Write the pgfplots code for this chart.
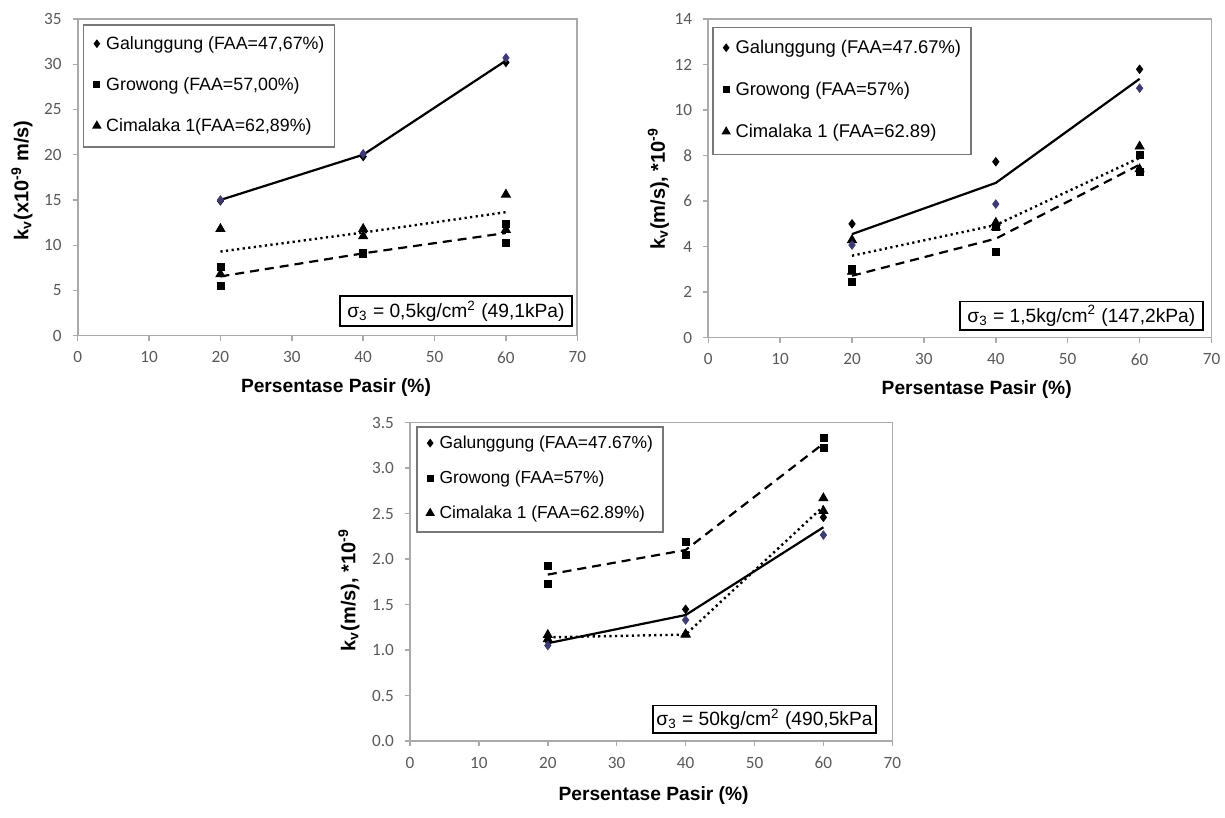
\documentclass[border=0pt]{standalone}
\usepackage{fontspec}
\setmainfont{Liberation Sans}
\newfontfamily\tickfont{Carlito}
\usepackage{pgfplots}
\pgfplotsset{compat=1.18}
\definecolor{axgray}{RGB}{170,170,170}
\definecolor{tickgray}{RGB}{89,89,89}
\definecolor{leggray}{RGB}{120,120,120}
\definecolor{navyd}{RGB}{60,60,115}

\tikzset{anno/.style={draw=black, line width=0.8pt, fill=white, inner sep=0pt, font=\fontsize{9.6}{11}\selectfont}}

\pgfplotsset{
 panel/.style={
  scale only axis, clip=false,
  xmin=0, xmax=70, xtick={0,10,...,70},
  axis line style={draw=axgray, line width=0.8pt},
  tick style={draw=axgray, line width=0.7pt},
  tick align=outside, major tick length=2.5pt, tick pos=left,
  ticklabel style={font=\tickfont\fontsize{8.6}{10}\selectfont, text=tickgray},
  xticklabel style={yshift=-2pt},
  yticklabel style={xshift=-2pt},
  /pgf/number format/assume math mode=true,
  xlabel style={font=\bfseries\fontsize{9.6}{11}\selectfont, anchor=center},
  ylabel style={font=\bfseries\fontsize{10}{12}\selectfont, anchor=center},
  legend cell align=left,
  legend image code/.code={\draw[##1, yshift=0.6pt, /tikz/every mark/.append style={scale=0.75}] plot coordinates {(0pt,0pt)};},
  legend style={draw=leggray, line width=0.8pt, fill=white,
    inner xsep=5pt, anchor=north west,
    column sep=3pt,
    nodes={inner sep=0pt, text height=6.3pt, text depth=1.8pt}},
 },
 gmark/.style={only marks, mark=diamond*, mark size=2.1pt, draw=black, fill=black},
 nmark/.style={only marks, mark=diamond*, mark size=2.1pt, draw=navyd, fill=navyd},
 smark/.style={only marks, mark=square*, mark size=1.75pt, draw=black, fill=black},
 tmark/.style={only marks, mark=triangle*, mark size=2.6pt, draw=black, fill=black},
 gline/.style={black, line width=1.1pt, no marks},
 sline/.style={black, line width=1.1pt, no marks, dash pattern=on 4.5pt off 3pt},
 tline/.style={black, line width=1.2pt, no marks, dash pattern=on 1.1pt off 1.7pt},
}

\begin{document}
\begin{tikzpicture}
\path[use as bounding box] (0,0) rectangle (612.5pt,409pt);

% ---------------- Panel 1 ----------------
\begin{axis}[panel,
  at={(38.85pt,241.15pt)}, anchor=south west,
  width=249.8pt, height=158.35pt,
  ymin=0, ymax=35, ytick={0,5,...,35},
  xlabel={Persentase Pasir (\%)},
  xlabel style={at={(rel axis cs:0.517,-0.165)}},
  ylabel={k\textsubscript{v}(x10\textsuperscript{-9} m/s)},
  ylabel style={at={(rel axis cs:-0.1115,0.49)}},
  legend style={at={(rel axis cs:0.010,0.984)}, inner ysep=6pt, row sep=12.4pt,
    font=\fontsize{8.9}{10}\selectfont},
]
\addplot[gline, forget plot] coordinates {(20,15.0) (40,20.0) (60,30.4)};
\addplot[sline, forget plot] coordinates {(20,6.55) (40,9.1) (60,11.35)};
\addplot[tline, forget plot] coordinates {(20,9.3) (40,11.4) (60,13.65)};
\addplot[gmark] coordinates {(20,14.9) (40,19.8) (60,30.2)};
\addlegendentry{Galunggung (FAA=47,67\%)\hspace{1.5pt}}
\addplot[smark] coordinates {(20,7.6) (20,5.5) (40,9.2) (40,9.0) (60,12.4) (60,10.3)};
\addlegendentry{Growong (FAA=57,00\%)}
\addplot[tmark] coordinates {(20,11.8) (20,6.8) (40,11.8) (40,11.0) (60,15.6) (60,11.7)};
\addlegendentry{Cimalaka 1(FAA=62,89\%)}
\addplot[nmark, forget plot] coordinates {(20,15.0) (40,20.1) (60,30.7)};
\node[anno, minimum width=116pt, minimum height=15pt] at (axis cs:53.0,2.73)
  {σ\textsubscript{3} = 0,5kg/cm\textsuperscript{2} (49,1kPa)};
\end{axis}

% ---------------- Panel 2 ----------------
\begin{axis}[panel,
  at={(354.1pt,240.15pt)}, anchor=south west,
  width=251.65pt, height=159.35pt,
  ymin=0, ymax=14, ytick={0,2,...,14},
  xlabel={Persentase Pasir (\%)},
  xlabel style={at={(rel axis cs:0.5335,-0.164)}},
  ylabel={k\textsubscript{v}(m/s), *10\textsuperscript{-9}},
  ylabel style={at={(rel axis cs:-0.099,0.4675)}},
  legend style={at={(rel axis cs:0.0075,0.976)}, inner ysep=6.7pt, row sep=12.9pt,
    font=\fontsize{9.2}{10}\selectfont},
]
\addplot[gline, forget plot] coordinates {(20,4.55) (40,6.8) (60,11.37)};
\addplot[sline, forget plot] coordinates {(20,2.72) (40,4.35) (60,7.6)};
\addplot[tline, forget plot] coordinates {(20,3.6) (40,4.95) (60,7.9)};
\addplot[gmark] coordinates {(20,5.0) (40,7.73) (60,11.79)};
\addlegendentry{Galunggung (FAA=47.67\%)\hspace{3.5pt}}
\addplot[smark] coordinates {(20,3.0) (20,2.46) (40,4.88) (40,3.78) (60,8.05) (60,7.28)};
\addlegendentry{Growong (FAA=57\%)}
\addplot[tmark] coordinates {(20,4.29) (20,2.9) (40,5.05) (40,4.85) (60,8.4) (60,7.4)};
\addlegendentry{Cimalaka 1 (FAA=62.89)}
\addplot[nmark, forget plot] coordinates {(20,4.07) (40,5.87) (60,10.96)};
\node[anno, minimum width=121.6pt, minimum height=14.15pt] at (axis cs:51.9,0.96)
  {σ\textsubscript{3} = 1,5kg/cm\textsuperscript{2} (147,2kPa)};
\end{axis}

% ---------------- Panel 3 ----------------
\begin{axis}[panel,
  at={(205pt,38.5pt)}, anchor=south west,
  width=241.15pt, height=159.15pt,
  ymin=0, ymax=3.5, ytick={0,0.5,...,3.5},
  yticklabel style={/pgf/number format/.cd, fixed, fixed zerofill, precision=1},
  xlabel={Persentase Pasir (\%)},
  xlabel style={at={(rel axis cs:0.505,-0.170)}},
  ylabel={k\textsubscript{v}(m/s), *10\textsuperscript{-9}},
  ylabel style={at={(rel axis cs:-0.1265,0.474)}},
  legend style={at={(rel axis cs:0.0124,0.9896)}, inner ysep=4.7pt, row sep=9.4pt,
    font=\fontsize{8.7}{10}\selectfont},
]
\addplot[gline, forget plot] coordinates {(20,1.075) (40,1.385) (60,2.35)};
\addplot[sline, forget plot] coordinates {(20,1.83) (40,2.10) (60,3.27)};
\addplot[tline, forget plot] coordinates {(20,1.14) (40,1.17) (60,2.58)};
\addplot[gmark] coordinates {(20,1.10) (40,1.448) (60,2.46)};
\addlegendentry{Galunggung (FAA=47.67\%)\hspace{3pt}}
\addplot[smark] coordinates {(20,1.924) (20,1.726) (40,2.19) (40,2.045) (60,3.33) (60,3.22)};
\addlegendentry{Growong (FAA=57\%)}
\addplot[tmark] coordinates {(20,1.166) (20,1.12) (40,1.175) (40,1.17) (60,2.67) (60,2.53)};
\addlegendentry{Cimalaka 1 (FAA=62.89\%)}
\addplot[nmark, forget plot] coordinates {(20,1.05) (40,1.33) (60,2.265)};
\node[anno, minimum width=111.2pt, minimum height=13.8pt] at (axis cs:51.45,0.2364)
  {σ\textsubscript{3} = 50kg/cm\textsuperscript{2} (490,5kPa};
\end{axis}
\end{tikzpicture}
\end{document}
